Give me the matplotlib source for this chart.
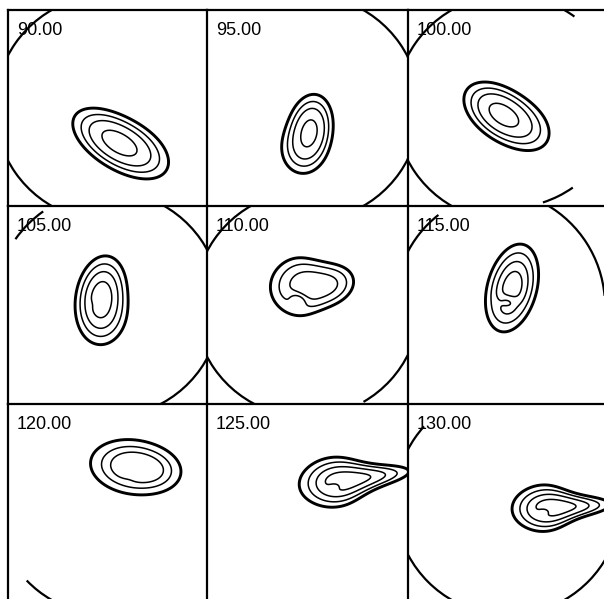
import numpy as np
import matplotlib.pyplot as plt
from matplotlib.patches import Arc

# panel labels (angle of each view), row by row
labels = ["90.00", "95.00", "100.00",
          "105.00", "110.00", "115.00",
          "120.00", "125.00", "130.00"]

# blob components per panel:
# (x, y, sigma_long, sigma_short, angle_deg, amplitude, taper)
# local pixel coords of the cell, y measured downward from the cell top
blobs = [
    [(107, 131, 21, 11, 32, 1.0, 0), (127, 140, 20, 12, 32, 0.35, 0)],
    [(103, 120, 16, 10, 100, 1.0, 0), (96, 138, 14, 12, 100, 0.30, 0)],
    [(92, 103, 18, 11, 35, 1.0, 0), (112, 114, 18, 12, 35, 0.35, 0)],
    [(93, 90, 18, 11, 100, 1.0, 0), (97, 110, 16, 12, 100, 0.30, 0),
     (90, 98, 5, 4, 0, -0.15, 0)],
    [(102, 80, 18, 13, -5, 1.0, 0.15), (125, 78, 12, 9, -20, 0.30, 0),
     (92, 92, 7, 5, 20, -0.45, 0)],
    [(104, 82, 20, 11, 105, 1.0, 0), (100, 95, 6, 5, 0, -0.40, 0)],
    [(125, 63, 19, 12, 8, 1.0, 0), (145, 66, 14, 10, 8, 0.30, 0),
     (128, 69, 7, 4, -10, -0.40, 0)],
    [(148, 75, 25, 9, -8, 0.85, 0.45), (126, 79, 13, 10, 0, 0.35, 0),
     (128, 82, 5, 3, -10, -0.30, 0)],
    [(154, 103, 22, 8.5, -3, 0.85, 0.45), (134, 105, 12, 9, 0, 0.35, 0),
     (137, 107, 5, 3, 0, -0.30, 0)],
]

# contour levels per panel
levels = [
    [0.08, 0.2, 0.4, 0.85],
    [0.08, 0.2, 0.4, 0.85],
    [0.08, 0.2, 0.4, 0.85],
    [0.08, 0.2, 0.4, 0.75],
    [0.1, 0.25, 0.55],
    [0.08, 0.2, 0.4, 0.7],
    [0.08, 0.25, 0.5],
    [0.08, 0.2, 0.4, 0.7],
    [0.08, 0.2, 0.4, 0.7],
]

# pieces of the field-of-view circle drawn in each panel:
# (cx, cy, radius, theta1, theta2), y down
arcs = [
    [(100, 98, 113, 110, 250)],
    [(100, 98, 113, -70, 70)],
    [(100, 98, 113, 110, 250), (100, 98, 113, 300, 306), (100, 85, 113, 55, 72)],
    [(100, 98, 113, 215, 235), (100, 98, 113, -70, 70)],
    [(100, 98, 113, 110, 250), (100, 98, 113, 25, 60)],
    [(100, 98, 113, 205, 232), (80, 100, 117, -60, -5)],
    [(100, 98, 113, 120, 136)],
    [],
    [(100, 98, 113, 207, 222), (100, 98, 113, 118, 152), (100, 98, 113, 28, 60)],
]

col_edges = [8, 207, 408, 608]
row_edges = [10, 206, 404, 600]
W, H = 604, 599


def field(comps, X, Y):
    f = np.zeros_like(X)
    for x, y, sl, ss, ang, amp, k in comps:
        a = np.deg2rad(ang)
        u = (X - x) * np.cos(a) + (Y - y) * np.sin(a)
        v = -(X - x) * np.sin(a) + (Y - y) * np.cos(a)
        ss_eff = ss * (1 - k * np.tanh(u / sl))
        f += amp * np.exp(-0.5 * (u**2 / sl**2 + v**2 / ss_eff**2))
    return f


fig = plt.figure(figsize=(W / 100, H / 100), dpi=100)

for i, lab in enumerate(labels):
    r, c = divmod(i, 3)
    x0, x1 = col_edges[c], col_edges[c + 1]
    y0, y1 = row_edges[r], row_edges[r + 1]
    cw, ch = x1 - x0, y1 - y0
    ax = fig.add_axes([x0 / W, 1 - y1 / H, cw / W, ch / H])
    ax.set_xlim(0, cw)
    ax.set_ylim(ch, 0)
    ax.set_xticks([])
    ax.set_yticks([])
    for s in ["right", "bottom"]:
        ax.spines[s].set_visible(False)
    for s in ["top", "left"]:
        ax.spines[s].set_linewidth(1.6)

    X, Y = np.meshgrid(np.arange(0, cw + 1, 0.5), np.arange(0, ch + 1, 0.5))
    F = field(blobs[i], X, Y)
    lv = levels[i]
    lws = [2.1] + [1.1] * (len(lv) - 1)
    ax.contour(X, Y, F, levels=lv, colors="black", linewidths=lws)

    for cx, cy, rad, t1, t2 in arcs[i]:
        ax.add_patch(Arc((cx, cy), 2 * rad, 2 * rad, theta1=t1, theta2=t2,
                         color="black", lw=1.6))

    ax.text(9, 25, lab, fontsize=13, family="Liberation Sans",
            va="baseline", ha="left")

fig.savefig("out.png", dpi=100)
